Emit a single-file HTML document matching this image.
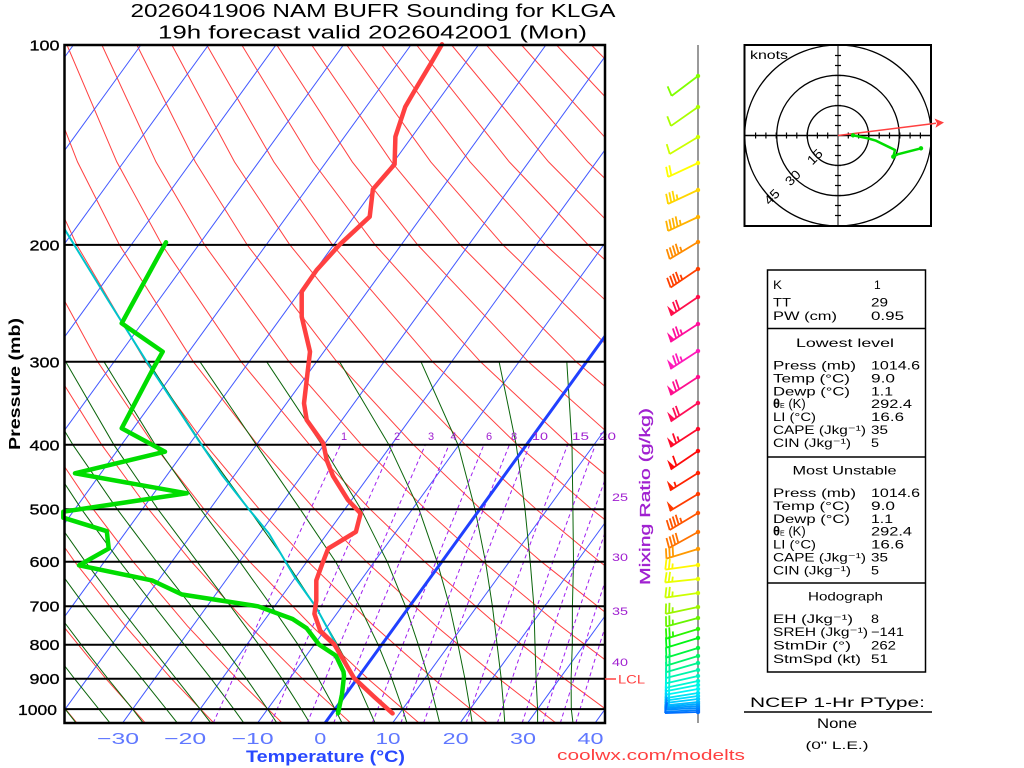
<!DOCTYPE html>
<html><head><meta charset="utf-8">
<style>
html,body{margin:0;padding:0;background:#fff;}
svg{display:block;}
text{font-family:"Liberation Sans",sans-serif;}
</style></head><body>
<svg width="1024" height="768" viewBox="0 0 1024 768" xmlns="http://www.w3.org/2000/svg">
<defs>
<clipPath id="pc"><rect x="64.5" y="45" width="540.5" height="678"/></clipPath>
<clipPath id="hc"><rect x="745" y="46" width="185" height="179"/></clipPath>
</defs>
<rect width="1024" height="768" fill="#fff"/>

<!-- Title -->
<text x="130.5" y="17" font-size="18" textLength="485" lengthAdjust="spacingAndGlyphs">2026041906 NAM BUFR Sounding for KLGA</text>
<text x="158" y="38.5" font-size="18" textLength="429" lengthAdjust="spacingAndGlyphs">19h forecast valid 2026042001 (Mon)</text>

<!-- grid -->
<g clip-path="url(#pc)" fill="none">
<path stroke="#ff4040" stroke-width="1" d="
M77.0 723.1L40.4 678.7L1.0 626.1
M145.4 723.1L105.9 678.7L63.2 626.1L16.4 561.7
M213.9 723.1L171.4 678.7L125.3 626.1L74.7 561.7L37.8 509.2L-2.2 444.8
M282.3 723.1L236.9 678.7L187.5 626.1L133.1 561.7L93.2 509.2L49.8 444.8L2.0 361.8
M350.8 723.1L302.4 678.7L249.7 626.1L191.4 561.7L148.6 509.2L101.7 444.8L49.8 361.8L-8.5 244.9
M419.2 723.1L367.9 678.7L311.9 626.1L249.7 561.7L204.0 509.2L153.7 444.8L97.7 361.8L34.1 244.9L-1.0 161.9
M487.7 723.1L433.4 678.7L374.0 626.1L308.1 561.7L259.3 509.2L205.6 444.8L145.5 361.8L76.8 244.9L38.2 161.9L-3.0 45
M556.1 723.1L498.9 678.7L436.2 626.1L366.4 561.7L314.7 509.2L257.6 444.8L193.4 361.8L119.4 244.9L77.5 161.9L32.0 45
M624.6 723.1L564.4 678.7L498.4 626.1L424.7 561.7L370.1 509.2L309.6 444.8L241.2 361.8L162.0 244.9L116.8 161.9L67.0 45
M693.0 723.1L629.9 678.7L560.6 626.1L483.1 561.7L425.4 509.2L361.5 444.8L289.1 361.8L204.6 244.9L156.0 161.9L101.9 45
M695.4 678.7L622.7 626.1L541.4 561.7L480.8 509.2L413.5 444.8L336.9 361.8L247.2 244.9L195.3 161.9L136.9 45
M684.9 626.1L599.7 561.7L536.2 509.2L465.4 444.8L384.8 361.8L289.9 244.9L234.5 161.9L171.9 45
M747.1 626.1L658.1 561.7L591.6 509.2L517.4 444.8L432.6 361.8L332.5 244.9L273.8 161.9L206.8 45
M716.4 561.7L646.9 509.2L569.3 444.8L480.5 361.8L375.1 244.9L313.0 161.9L241.8 45
M702.3 509.2L621.3 444.8L528.4 361.8L417.7 244.9L352.3 161.9L276.8 45
M673.2 444.8L576.2 361.8L460.3 244.9L391.6 161.9L311.7 45
M725.2 444.8L624.1 361.8L503.0 244.9L430.8 161.9L346.7 45
M671.9 361.8L545.6 244.9L470.1 161.9L381.6 45
M719.8 361.8L588.2 244.9L509.3 161.9L416.6 45
M767.6 361.8L630.8 244.9L548.6 161.9L451.6 45
M673.4 244.9L587.8 161.9L486.5 45
M716.1 244.9L627.1 161.9L521.5 45
M758.7 244.9L666.3 161.9L556.5 45
M705.6 161.9L591.4 45"/>
<path stroke="#4258ff" stroke-width="1" d="
M-417.5 723.1L73.4 45M-350 723.1L140.9 45M-282.5 723.1L208.4 45M-215 723.1L275.9 45
M-147.5 723.1L343.4 45M-80 723.1L410.9 45M-12.5 723.1L478.4 45M55 723.1L545.9 45
M122.5 723.1L613.4 45M190 723.1L680.9 45M257.5 723.1L748.4 45
M392.5 723.1L883.4 45M460 723.1L950.9 45M527.5 723.1L1018.4 45M595 723.1L1085.9 45"/>
<path stroke="#0a640a" stroke-width="1" d="
M76.2 723.1L65.1 709.1L41.2 678.7
M110.1 723.1L98.8 709.1L74.5 678.7L48.4 644.7
M143.3 723.1L132.6 709.1L107.9 678.7L81.3 644.7L52.2 606.2
M177.4 723.1L166.3 709.1L142.0 678.7L114.7 644.7L85.0 606.2L52.5 561.7
M210.9 723.1L200.1 709.1L176.1 678.7L149.1 644.7L118.9 606.2L85.4 561.7L48.4 509.2
M243.9 723.1L233.8 709.1L211.1 678.7L184.4 644.7L154.2 606.2L119.9 561.7L81.5 509.2L39.2 444.8
M277.0 723.1L267.6 709.1L246.4 678.7L221.4 644.7L191.4 606.2L156.6 561.7L117.2 509.2L72.9 444.8L23.5 361.8
M309.8 723.1L301.3 709.1L282.0 678.7L258.8 644.7L230.5 606.2L197.2 561.7L157.9 509.2L113.9 444.8L65.7 361.8
M342.1 723.1L335.1 709.1L318.4 678.7L298.1 644.7L271.6 606.2L239.8 561.7L200.6 509.2L155.2 444.8L104.0 361.8
M375.1 723.1L368.8 709.1L355.4 678.7L337.5 644.7L315.4 606.2L286.2 561.7L248.8 509.2L202.1 444.8L148.3 361.8
M407.0 723.1L402.6 709.1L391.9 678.7L378.1 644.7L359.6 606.2L335.6 561.7L300.2 509.2L256.3 444.8L200.0 361.8
M439.7 723.1L436.3 709.1L428.7 678.7L418.3 644.7L405.4 606.2L387.2 561.7L360.9 509.2L321.8 444.8L266.7 361.8
M472.2 723.1L470.1 709.1L464.9 678.7L458.0 644.7L449.6 606.2L437.1 561.7L419.0 509.2L388.9 444.8L339.6 361.8
M504.8 723.1L503.8 709.1L501.2 678.7L497.1 644.7L492.4 606.2L485.5 561.7L475.0 509.2L458.0 444.8L421.0 361.8
M537.6 723.1L537.6 709.1L536.1 678.7L535.0 644.7L533.9 606.2L530.2 561.7L525.0 509.2L516.2 444.8L499.1 361.8
M573.0 723.1L571.3 709.1L571.1 678.7L572.3 644.7L572.4 606.2L573.5 561.7L572.9 509.2L572.0 444.8L566.8 361.8"/>
<path stroke="#a020f0" stroke-width="1" stroke-dasharray="4,3" d="
M213.2 723.1L240.4 662.2L265.8 606.2L297.7 536.7L340.5 444.8
M271.2 723.1L297.1 662.2L321.4 606.2L351.9 536.7L392.9 444.8
M307.2 723.1L332.2 662.2L355.8 606.2L385.4 536.7L425.3 444.8
M333.6 723.1L358.1 662.2L381.1 606.2L410.1 536.7L449.1 444.8
M372.3 723.1L395.9 662.2L418.0 606.2L446.0 536.7L483.9 444.8
M400.8 723.1L423.7 662.2L445.2 606.2L472.4 536.7L509.4 444.8
M423.5 723.1L445.8 662.2L466.8 606.2L493.4 536.7L529.7 444.8
M466.1 723.1L487.3 662.2L507.3 606.2L532.9 536.7L567.6 444.8
M497.3 723.1L517.7 662.2L537.1 606.2L561.7 536.7L595.4 444.8
M522.1 723.1L541.9 662.2L560.7 606.2L584.6 536.7L617.5 444.8
M542.7 723.1L561.9 662.2L580.2 606.2L603.6 536.7L635.8 444.8
M560.3 723.1L579.1 662.2L597.0 606.2L619.9 536.7
M575.8 723.1L594.1 662.2L611.6 606.2"/>
<path stroke="#2040ff" stroke-width="3" d="M325 723.1L815.9 45"/>
</g>

<!-- pressure lines -->
<g stroke="#000" stroke-width="2">
<line x1="64.5" y1="244.9" x2="605" y2="244.9"/>
<line x1="64.5" y1="361.8" x2="605" y2="361.8"/>
<line x1="64.5" y1="444.8" x2="605" y2="444.8"/>
<line x1="64.5" y1="509.2" x2="605" y2="509.2"/>
<line x1="64.5" y1="561.7" x2="605" y2="561.7"/>
<line x1="64.5" y1="606.2" x2="605" y2="606.2"/>
<line x1="64.5" y1="644.7" x2="605" y2="644.7"/>
<line x1="64.5" y1="678.7" x2="605" y2="678.7"/>
<line x1="64.5" y1="709.1" x2="605" y2="709.1"/>
</g>

<!-- mixing ratio labels -->
<g fill="#a020d0" font-size="11">
<text x="341" y="440">1</text>
<text x="394" y="440">2</text>
<text x="428" y="440">3</text>
<text x="450.5" y="440">4</text>
<text x="486" y="440">6</text>
<text x="511" y="440">8</text>
<text x="532" y="440" textLength="16" lengthAdjust="spacingAndGlyphs">10</text>
<text x="572" y="440" textLength="17" lengthAdjust="spacingAndGlyphs">15</text>
<text x="599" y="440" textLength="17" lengthAdjust="spacingAndGlyphs">20</text>
<text x="612" y="501" textLength="16" lengthAdjust="spacingAndGlyphs">25</text>
<text x="612" y="561" textLength="16" lengthAdjust="spacingAndGlyphs">30</text>
<text x="612" y="615" textLength="16" lengthAdjust="spacingAndGlyphs">35</text>
<text x="612" y="666" textLength="16" lengthAdjust="spacingAndGlyphs">40</text>
</g>
<text transform="translate(650,496.5) rotate(-90)" text-anchor="middle" font-size="15" fill="#a020d0" stroke="#a020d0" stroke-width="0.3" textLength="177" lengthAdjust="spacingAndGlyphs">Mixing Ratio (g/kg)</text>

<!-- parcel -->
<polyline fill="none" stroke="#00c4cc" stroke-width="2" stroke-linejoin="round" clip-path="url(#pc)"
 points="392,713.4 372,695 354,680 345,662 336,644 326,625.5 316,607 294.6,577 268.9,533.5 248.8,509.2 222,475 198.3,440 146.7,361.7 108,300 73.3,243.3 62,225"/>

<!-- dewpoint -->
<polyline fill="none" stroke="#00dd00" stroke-width="4.5" stroke-linejoin="round" stroke-linecap="round"
 points="166,242.3 121.7,323.3 162.7,351.7 153.3,368.3 121.7,428.3 165,451.7 75,473.3 186.7,493.3 63.3,511.7 63.3,517.7 106.8,531.2 108.7,548.6 79,565.3 152,580.4 182,594.5 258,606.3 292.6,619 306.7,628.3 319,644.5 336,655.8 343.5,671.7 344,676 342,694.3 338,713.4"/>

<!-- temperature -->
<polyline fill="none" stroke="#ff4040" stroke-width="4.5" stroke-linejoin="round" stroke-linecap="round"
 points="442,44.3 431,63.3 415,90 405.3,106.7 395.4,136.7 394.6,164.3 372.9,189.3 369.7,216.7 340,244.3 316.7,270 301.7,291.7 301.7,316.7 310,351.7 304,403.3 306.7,420 323.3,443.3 326.7,460 333,476 348,500 360.6,513.4 355.9,531.8 328.2,548.6 322.3,563.7 316.3,580.4 316.3,600.5 314.4,613.9 320.3,630.7 334.1,644 354,678 374,696.7 392.6,713.4"/>

<!-- frame -->
<rect x="64.5" y="45" width="540.5" height="678" fill="none" stroke="#000" stroke-width="2.5"/>

<!-- LCL -->
<line x1="605" y1="679" x2="616" y2="679" stroke="#ff4040" stroke-width="1.5"/>
<text x="618" y="683.5" font-size="12" fill="#ff4040" textLength="27" lengthAdjust="spacingAndGlyphs">LCL</text>

<!-- pressure labels -->
<g font-size="15" text-anchor="end" fill="#000" stroke="#000" stroke-width="0.3">
<text x="59.5" y="50.5" textLength="30" lengthAdjust="spacingAndGlyphs">100</text>
<text x="59.5" y="250.4" textLength="30" lengthAdjust="spacingAndGlyphs">200</text>
<text x="59.5" y="367.3" textLength="30" lengthAdjust="spacingAndGlyphs">300</text>
<text x="59.5" y="450.3" textLength="30" lengthAdjust="spacingAndGlyphs">400</text>
<text x="59.5" y="514.7" textLength="30" lengthAdjust="spacingAndGlyphs">500</text>
<text x="59.5" y="567.2" textLength="30" lengthAdjust="spacingAndGlyphs">600</text>
<text x="59.5" y="611.7" textLength="30" lengthAdjust="spacingAndGlyphs">700</text>
<text x="59.5" y="650.2" textLength="30" lengthAdjust="spacingAndGlyphs">800</text>
<text x="59.5" y="684.2" textLength="30" lengthAdjust="spacingAndGlyphs">900</text>
<text x="57" y="714.8" textLength="39" lengthAdjust="spacingAndGlyphs">1000</text>
</g>
<text transform="translate(20,384) rotate(-90)" text-anchor="middle" font-size="16" font-weight="bold" textLength="132" lengthAdjust="spacingAndGlyphs">Pressure (mb)</text>

<!-- temperature labels -->
<g font-size="16" fill="#6078ff" text-anchor="middle">
<text x="118" y="744" textLength="42" lengthAdjust="spacingAndGlyphs">−30</text>
<text x="185.2" y="744" textLength="42" lengthAdjust="spacingAndGlyphs">−20</text>
<text x="252.6" y="744" textLength="42" lengthAdjust="spacingAndGlyphs">−10</text>
<text x="320.3" y="744" textLength="12" lengthAdjust="spacingAndGlyphs">0</text>
<text x="388" y="744" textLength="25" lengthAdjust="spacingAndGlyphs">10</text>
<text x="455.7" y="744" textLength="26" lengthAdjust="spacingAndGlyphs">20</text>
<text x="523" y="744" textLength="26" lengthAdjust="spacingAndGlyphs">30</text>
<text x="590.5" y="744" textLength="26" lengthAdjust="spacingAndGlyphs">40</text>
</g>
<text x="246" y="762" font-size="17" font-weight="bold" fill="#2848ff" textLength="159" lengthAdjust="spacingAndGlyphs">Temperature (°C)</text>
<text x="557" y="760" font-size="15" fill="#ff4040" textLength="188" lengthAdjust="spacingAndGlyphs">coolwx.com/modelts</text>

<!-- wind barb axis -->
<line x1="698" y1="45" x2="698" y2="723" stroke="#808080" stroke-width="1.6"/>

<!-- wind barbs -->
<g stroke-width="1.8">
<g transform="translate(698,76) rotate(-37)" stroke="hsl(90,100%,50%)" fill="hsl(90,100%,50%)"><circle r="2.2" stroke="none"/><path fill="none" d="M0 0H-33M-33 0l2.5-10"/></g>
<g transform="translate(698,107) rotate(-35)" stroke="hsl(80,100%,50%)" fill="hsl(80,100%,50%)"><circle r="2.2" stroke="none"/><path fill="none" d="M0 0H-33M-33 0l2.5-10"/></g>
<g transform="translate(698,137) rotate(-31)" stroke="hsl(72,100%,50%)" fill="hsl(72,100%,50%)"><circle r="2.2" stroke="none"/><path fill="none" d="M0 0H-33M-33 0l2.5-10"/></g>
<g transform="translate(698,163) rotate(-25)" stroke="hsl(60,100%,50%)" fill="hsl(60,100%,50%)"><circle r="2.2" stroke="none"/><path fill="none" d="M0 0H-33M-33 0l2.5-10M-29.5 0l2.5-10"/></g>
<g transform="translate(698,190) rotate(-25)" stroke="hsl(50,100%,50%)" fill="hsl(50,100%,50%)"><circle r="2.2" stroke="none"/><path fill="none" d="M0 0H-33M-33 0l2.5-10M-29.5 0l2.5-10M-26 0l2.5-10M-22.5 0l1.2-5"/></g>
<g transform="translate(698,217) rotate(-25)" stroke="hsl(42,100%,50%)" fill="hsl(42,100%,50%)"><circle r="2.2" stroke="none"/><path fill="none" d="M0 0H-33M-33 0l2.5-10M-29.5 0l2.5-10M-26 0l2.5-10M-22.5 0l2.5-10M-19 0l1.2-5"/></g>
<g transform="translate(698,242) rotate(-31)" stroke="hsl(33,100%,50%)" fill="hsl(33,100%,50%)"><circle r="2.2" stroke="none"/><path fill="none" d="M0 0H-33M-33 0l2.5-10M-29.5 0l2.5-10M-26 0l2.5-10M-22.5 0l2.5-10M-19 0l1.2-5"/></g>
<g transform="translate(698,269) rotate(-34)" stroke="hsl(15,100%,50%)" fill="hsl(15,100%,50%)"><circle r="2.2" stroke="none"/><path fill="none" d="M0 0H-33M-33 0l2.5-10M-29.5 0l2.5-10M-26 0l2.5-10M-22.5 0l2.5-10M-19 0l1.2-5"/></g>
<g transform="translate(698,297) rotate(-34)" stroke="hsl(345,100%,53%)" fill="hsl(345,100%,53%)"><circle r="2.2" stroke="none"/><polygon points="-33,0 -30.5,-10 -28,0" stroke="none"/><path fill="none" d="M0 0H-33M-26 0l2.5-10M-22.5 0l2.5-10"/></g>
<g transform="translate(698,324) rotate(-33)" stroke="hsl(325,100%,53%)" fill="hsl(325,100%,53%)"><circle r="2.2" stroke="none"/><polygon points="-33,0 -30.5,-10 -28,0" stroke="none"/><path fill="none" d="M0 0H-33M-26 0l2.5-10M-22.5 0l2.5-10M-19 0l1.2-5"/></g>
<g transform="translate(698,351) rotate(-33)" stroke="hsl(318,100%,55%)" fill="hsl(318,100%,55%)"><circle r="2.2" stroke="none"/><polygon points="-33,0 -30.5,-10 -28,0" stroke="none"/><path fill="none" d="M0 0H-33M-26 0l2.5-10M-22.5 0l2.5-10M-19 0l1.2-5"/></g>
<g transform="translate(698,377) rotate(-33)" stroke="hsl(328,100%,53%)" fill="hsl(328,100%,53%)"><circle r="2.2" stroke="none"/><polygon points="-33,0 -30.5,-10 -28,0" stroke="none"/><path fill="none" d="M0 0H-33M-26 0l2.5-10M-22.5 0l2.5-10"/></g>
<g transform="translate(698,403) rotate(-34)" stroke="hsl(342,100%,53%)" fill="hsl(342,100%,53%)"><circle r="2.2" stroke="none"/><polygon points="-33,0 -30.5,-10 -28,0" stroke="none"/><path fill="none" d="M0 0H-33M-26 0l2.5-10M-22.5 0l2.5-10"/></g>
<g transform="translate(698,429) rotate(-33)" stroke="hsl(352,100%,52%)" fill="hsl(352,100%,52%)"><circle r="2.2" stroke="none"/><polygon points="-33,0 -30.5,-10 -28,0" stroke="none"/><path fill="none" d="M0 0H-33M-26 0l2.5-10M-22.5 0l1.2-5"/></g>
<g transform="translate(698,451) rotate(-34)" stroke="hsl(0,100%,52%)" fill="hsl(0,100%,52%)"><circle r="2.2" stroke="none"/><polygon points="-33,0 -30.5,-10 -28,0" stroke="none"/><path fill="none" d="M0 0H-33M-26 0l2.5-10"/></g>
<g transform="translate(698,473) rotate(-32)" stroke="hsl(8,100%,50%)" fill="hsl(8,100%,50%)"><circle r="2.2" stroke="none"/><polygon points="-33,0 -30.5,-10 -28,0" stroke="none"/><path fill="none" d="M0 0H-33M-26 0l1.2-5"/></g>
<g transform="translate(698,494) rotate(-31)" stroke="hsl(14,100%,50%)" fill="hsl(14,100%,50%)"><circle r="2.2" stroke="none"/><polygon points="-33,0 -30.5,-10 -28,0" stroke="none"/><path fill="none" d="M0 0H-33"/></g>
<g transform="translate(698,513) rotate(-31)" stroke="hsl(20,100%,50%)" fill="hsl(20,100%,50%)"><circle r="2.2" stroke="none"/><path fill="none" d="M0 0H-33M-33 0l2.5-10M-29.5 0l2.5-10M-26 0l2.5-10M-22.5 0l2.5-10M-19 0l1.2-5"/></g>
<g transform="translate(698,532) rotate(-29)" stroke="hsl(27,100%,50%)" fill="hsl(27,100%,50%)"><circle r="2.2" stroke="none"/><path fill="none" d="M0 0H-33M-33 0l2.5-10M-29.5 0l2.5-10M-26 0l2.5-10M-22.5 0l2.5-10"/></g>
<g transform="translate(698,549) rotate(-17)" stroke="hsl(36,100%,50%)" fill="hsl(36,100%,50%)"><circle r="2.2" stroke="none"/><path fill="none" d="M0 0H-33M-33 0l2.5-10M-29.5 0l2.5-10M-26 0l2.5-10"/></g>
<g transform="translate(698,565) rotate(-8)" stroke="hsl(58,100%,50%)" fill="hsl(58,100%,50%)"><circle r="2.2" stroke="none"/><path fill="none" d="M0 0H-33M-33 0l2.5-10M-29.5 0l2.5-10M-26 0l1.2-5"/></g>
<g transform="translate(698,579) rotate(-6)" stroke="hsl(65,100%,50%)" fill="hsl(65,100%,50%)"><circle r="2.2" stroke="none"/><path fill="none" d="M0 0H-33M-33 0l2.5-10M-29.5 0l2.5-10M-26 0l1.2-5"/></g>
<g transform="translate(698,593) rotate(-8)" stroke="hsl(72,100%,50%)" fill="hsl(72,100%,50%)"><circle r="2.2" stroke="none"/><path fill="none" d="M0 0H-33M-33 0l2.5-10M-29.5 0l2.5-10M-26 0l1.2-5"/></g>
<g transform="translate(698,607) rotate(-12)" stroke="hsl(82,100%,48%)" fill="hsl(82,100%,48%)"><circle r="2.2" stroke="none"/><path fill="none" d="M0 0H-33M-33 0l2.5-10M-29.5 0l2.5-10M-26 0l1.2-5"/></g>
<g transform="translate(698,618) rotate(-15)" stroke="hsl(95,100%,48%)" fill="hsl(95,100%,48%)"><circle r="2.2" stroke="none"/><path fill="none" d="M0 0H-33M-33 0l2.5-10M-29.5 0l2.5-10M-26 0l1.2-5"/></g>
<g transform="translate(698,629) rotate(-17)" stroke="hsl(110,100%,48%)" fill="hsl(110,100%,48%)"><circle r="2.2" stroke="none"/><path fill="none" d="M0 0H-33M-33 0l2.5-10M-29.5 0l2.5-10M-26 0l1.2-5"/></g>
<g transform="translate(698,638) rotate(-17)" stroke="hsl(125,100%,48%)" fill="hsl(125,100%,48%)"><circle r="2.2" stroke="none"/><path fill="none" d="M0 0H-33M-33 0l2.5-10M-29.5 0l2.5-10"/></g>
<g transform="translate(698,648) rotate(-17)" stroke="hsl(135,100%,48%)" fill="hsl(135,100%,48%)"><circle r="2.2" stroke="none"/><path fill="none" d="M0 0H-33M-33 0l2.5-10M-29.5 0l2.5-10"/></g>
<g transform="translate(698,656) rotate(-17)" stroke="hsl(145,100%,48%)" fill="hsl(145,100%,48%)"><circle r="2.2" stroke="none"/><path fill="none" d="M0 0H-33M-33 0l2.5-10M-29.5 0l2.5-10"/></g>
<g transform="translate(698,663) rotate(-16)" stroke="hsl(155,100%,48%)" fill="hsl(155,100%,48%)"><circle r="2.2" stroke="none"/><path fill="none" d="M0 0H-33M-33 0l2.5-10M-29.5 0l2.5-10"/></g>
<g transform="translate(698,670) rotate(-14)" stroke="hsl(162,100%,48%)" fill="hsl(162,100%,48%)"><circle r="2.2" stroke="none"/><path fill="none" d="M0 0H-33M-33 0l2.5-10M-29.5 0l2.5-10"/></g>
<g transform="translate(698,676) rotate(-13)" stroke="hsl(168,100%,48%)" fill="hsl(168,100%,48%)"><circle r="2.2" stroke="none"/><path fill="none" d="M0 0H-33M-33 0l2.5-10M-29.5 0l2.5-10"/></g>
<g transform="translate(698,681) rotate(-12)" stroke="hsl(172,100%,48%)" fill="hsl(172,100%,48%)"><circle r="2.2" stroke="none"/><path fill="none" d="M0 0H-33M-33 0l2.5-10M-29.5 0l2.5-10"/></g>
<g transform="translate(698,685) rotate(-11)" stroke="hsl(176,100%,48%)" fill="hsl(176,100%,48%)"><circle r="2.2" stroke="none"/><path fill="none" d="M0 0H-33M-33 0l2.5-10M-29.5 0l1.2-5"/></g>
<g transform="translate(698,689) rotate(-10)" stroke="hsl(180,100%,48%)" fill="hsl(180,100%,48%)"><circle r="2.2" stroke="none"/><path fill="none" d="M0 0H-33M-33 0l2.5-10M-29.5 0l1.2-5"/></g>
<g transform="translate(698,693) rotate(-9)" stroke="hsl(184,100%,48%)" fill="hsl(184,100%,48%)"><circle r="2.2" stroke="none"/><path fill="none" d="M0 0H-33M-33 0l2.5-10M-29.5 0l1.2-5"/></g>
<g transform="translate(698,696) rotate(-8)" stroke="hsl(188,100%,50%)" fill="hsl(188,100%,50%)"><circle r="2.2" stroke="none"/><path fill="none" d="M0 0H-33M-33 0l2.5-10M-29.5 0l1.2-5"/></g>
<g transform="translate(698,699) rotate(-7)" stroke="hsl(192,100%,50%)" fill="hsl(192,100%,50%)"><circle r="2.2" stroke="none"/><path fill="none" d="M0 0H-33M-33 0l2.5-10M-29.5 0l1.2-5"/></g>
<g transform="translate(698,702) rotate(-6)" stroke="hsl(196,100%,50%)" fill="hsl(196,100%,50%)"><circle r="2.2" stroke="none"/><path fill="none" d="M0 0H-33M-33 0l2.5-10M-29.5 0l1.2-5"/></g>
<g transform="translate(698,704) rotate(-5)" stroke="hsl(200,100%,50%)" fill="hsl(200,100%,50%)"><circle r="2.2" stroke="none"/><path fill="none" d="M0 0H-33M-33 0l2.5-10"/></g>
<g transform="translate(698,706) rotate(-4)" stroke="hsl(204,100%,50%)" fill="hsl(204,100%,50%)"><circle r="2.2" stroke="none"/><path fill="none" d="M0 0H-33M-33 0l2.5-10"/></g>
<g transform="translate(698,708) rotate(-3)" stroke="hsl(207,100%,50%)" fill="hsl(207,100%,50%)"><circle r="2.2" stroke="none"/><path fill="none" d="M0 0H-33M-33 0l2.5-10"/></g>
<g transform="translate(698,710) rotate(-3)" stroke="hsl(210,100%,50%)" fill="hsl(210,100%,50%)"><circle r="2.2" stroke="none"/><path fill="none" d="M0 0H-33M-33 0l2.5-10"/></g>
<g transform="translate(698,712) rotate(-2)" stroke="hsl(214,100%,50%)" fill="hsl(214,100%,50%)"><circle r="2.2" stroke="none"/><path fill="none" d="M0 0H-33M-33 0l2.5-10"/></g>
</g>

<!-- hodograph -->
<g clip-path="url(#hc)" fill="none" stroke="#000" stroke-width="1.3">
<ellipse cx="838" cy="135.5" rx="30.7" ry="29.9"/>
<ellipse cx="838" cy="135.5" rx="61.3" ry="60.2"/>
<ellipse cx="838" cy="135.5" rx="93.3" ry="90.5"/>
</g>
<line x1="745" y1="135.5" x2="931" y2="135.5" stroke="#000" stroke-width="1.5"/>
<line x1="838" y1="45" x2="838" y2="226" stroke="#555" stroke-width="1.5"/>
<path stroke="#000" stroke-width="1.2" fill="none" d="
M755.6 132.5v6M765.9 132.5v6M776.2 132.5v6M786.5 132.5v6M796.8 132.5v6M807.1 132.5v6M817.4 132.5v6M827.7 132.5v6
M848.3 132.5v6M858.6 132.5v6M868.9 132.5v6M879.2 132.5v6M889.5 132.5v6M899.8 132.5v6M910.1 132.5v6M920.4 132.5v6
M835 55.5h6M835 65.5h6M835 75.5h6M835 85.5h6M835 95.5h6M835 105.5h6M835 115.5h6M835 125.5h6
M835 145.5h6M835 155.5h6M835 165.5h6M835 175.5h6M835 185.5h6M835 195.5h6M835 205.5h6M835 215.5h6"/>
<rect x="744.5" y="45" width="186.5" height="181" fill="none" stroke="#000" stroke-width="2"/>
<text x="750" y="59" font-size="12" textLength="38" lengthAdjust="spacingAndGlyphs">knots</text>
<g font-size="13" text-anchor="middle">
<text transform="translate(818,160) rotate(-45)" textLength="16" lengthAdjust="spacingAndGlyphs">15</text>
<text transform="translate(796,181) rotate(-45)" textLength="16" lengthAdjust="spacingAndGlyphs">30</text>
<text transform="translate(775,200) rotate(-45)" textLength="16" lengthAdjust="spacingAndGlyphs">45</text>
</g>
<line x1="838" y1="135.5" x2="936" y2="123.3" stroke="#ff4040" stroke-width="1.5"/>
<polygon points="944,122.5 934.5,118.5 937,123.2 935.5,127.8" fill="#ff4040"/>
<polyline fill="none" stroke="#00dd00" stroke-width="2.5" stroke-linejoin="round" points="853,135.3 867.7,138.3 876,140.7 895,150 893.3,156.7 897.7,154.3 921,148.3"/>
<g fill="#00dd00">
<circle cx="853" cy="135.3" r="2.2"/><circle cx="893.3" cy="156.7" r="2.2"/><circle cx="921" cy="148.3" r="2.2"/>
</g>

<!-- index table -->
<rect x="767.5" y="270" width="158" height="402" fill="none" stroke="#000" stroke-width="1.5"/>
<line x1="767.5" y1="328.5" x2="925.5" y2="328.5" stroke="#000" stroke-width="1.5"/>
<line x1="767.5" y1="457" x2="925.5" y2="457" stroke="#000" stroke-width="1.5"/>
<line x1="767.5" y1="583" x2="925.5" y2="583" stroke="#000" stroke-width="1.5"/>
<g font-size="12">
<text x="773" y="289" textLength="9" lengthAdjust="spacingAndGlyphs">K</text><text x="874" y="289">1</text>
<text x="773" y="306.5" textLength="18" lengthAdjust="spacingAndGlyphs">TT</text><text x="871" y="306.5" textLength="17" lengthAdjust="spacingAndGlyphs">29</text>
<text x="773" y="320" textLength="64" lengthAdjust="spacingAndGlyphs">PW (cm)</text><text x="871" y="320" textLength="33" lengthAdjust="spacingAndGlyphs">0.95</text>

<text x="796" y="347" textLength="98" lengthAdjust="spacingAndGlyphs">Lowest level</text>
<text x="773" y="369.5" textLength="83" lengthAdjust="spacingAndGlyphs">Press (mb)</text><text x="871" y="369.5" textLength="49" lengthAdjust="spacingAndGlyphs">1014.6</text>
<text x="773" y="382.4" textLength="77" lengthAdjust="spacingAndGlyphs">Temp (°C)</text><text x="871" y="382.4" textLength="24" lengthAdjust="spacingAndGlyphs">9.0</text>
<text x="773" y="395.3" textLength="77" lengthAdjust="spacingAndGlyphs">Dewp (°C)</text><text x="871" y="395.3" textLength="22" lengthAdjust="spacingAndGlyphs">1.1</text>
<text x="773" y="408.2"><tspan font-weight="bold" font-size="13">θ</tspan><tspan font-size="7">E</tspan><tspan font-size="13"> (K)</tspan></text><text x="871" y="408.2" textLength="41" lengthAdjust="spacingAndGlyphs">292.4</text>
<text x="773" y="421.1" textLength="43" lengthAdjust="spacingAndGlyphs">LI (°C)</text><text x="871" y="421.1" textLength="33" lengthAdjust="spacingAndGlyphs">16.6</text>
<text x="773" y="434" textLength="93" lengthAdjust="spacingAndGlyphs">CAPE (Jkg⁻¹)</text><text x="871" y="434" textLength="17" lengthAdjust="spacingAndGlyphs">35</text>
<text x="773" y="446.9" textLength="78" lengthAdjust="spacingAndGlyphs">CIN (Jkg⁻¹)</text><text x="871" y="446.9" textLength="8" lengthAdjust="spacingAndGlyphs">5</text>

<text x="792.5" y="474.5" textLength="104" lengthAdjust="spacingAndGlyphs">Most Unstable</text>
<text x="773" y="497" textLength="83" lengthAdjust="spacingAndGlyphs">Press (mb)</text><text x="871" y="497" textLength="49" lengthAdjust="spacingAndGlyphs">1014.6</text>
<text x="773" y="509.9" textLength="77" lengthAdjust="spacingAndGlyphs">Temp (°C)</text><text x="871" y="509.9" textLength="24" lengthAdjust="spacingAndGlyphs">9.0</text>
<text x="773" y="522.8" textLength="77" lengthAdjust="spacingAndGlyphs">Dewp (°C)</text><text x="871" y="522.8" textLength="22" lengthAdjust="spacingAndGlyphs">1.1</text>
<text x="773" y="535.7"><tspan font-weight="bold" font-size="13">θ</tspan><tspan font-size="7">E</tspan><tspan font-size="13"> (K)</tspan></text><text x="871" y="535.7" textLength="41" lengthAdjust="spacingAndGlyphs">292.4</text>
<text x="773" y="548.6" textLength="43" lengthAdjust="spacingAndGlyphs">LI (°C)</text><text x="871" y="548.6" textLength="33" lengthAdjust="spacingAndGlyphs">16.6</text>
<text x="773" y="561.5" textLength="93" lengthAdjust="spacingAndGlyphs">CAPE (Jkg⁻¹)</text><text x="871" y="561.5" textLength="17" lengthAdjust="spacingAndGlyphs">35</text>
<text x="773" y="574.4" textLength="78" lengthAdjust="spacingAndGlyphs">CIN (Jkg⁻¹)</text><text x="871" y="574.4" textLength="8" lengthAdjust="spacingAndGlyphs">5</text>

<text x="808" y="600.5" textLength="75" lengthAdjust="spacingAndGlyphs">Hodograph</text>
<text x="773" y="623" textLength="80" lengthAdjust="spacingAndGlyphs">EH (Jkg⁻¹)</text><text x="871" y="623" textLength="8" lengthAdjust="spacingAndGlyphs">8</text>
<text x="773" y="636" textLength="95" lengthAdjust="spacingAndGlyphs">SREH (Jkg⁻¹)</text><text x="871" y="636" textLength="33" lengthAdjust="spacingAndGlyphs">−141</text>
<text x="773" y="649.5" textLength="78" lengthAdjust="spacingAndGlyphs">StmDir (°)</text><text x="871" y="649.5" textLength="25" lengthAdjust="spacingAndGlyphs">262</text>
<text x="773" y="663" textLength="88" lengthAdjust="spacingAndGlyphs">StmSpd (kt)</text><text x="871" y="663" textLength="17" lengthAdjust="spacingAndGlyphs">51</text>
</g>

<!-- ptype -->
<text x="750" y="707" font-size="14" textLength="175" lengthAdjust="spacingAndGlyphs">NCEP 1-Hr PType:</text>
<line x1="744" y1="712" x2="932" y2="712" stroke="#000" stroke-width="1.5"/>
<text x="837" y="728" font-size="14" text-anchor="middle" textLength="40" lengthAdjust="spacingAndGlyphs">None</text>
<text x="837" y="749" font-size="11" text-anchor="middle" textLength="63" lengthAdjust="spacingAndGlyphs">(0" L.E.)</text>
</svg>
</body></html>
